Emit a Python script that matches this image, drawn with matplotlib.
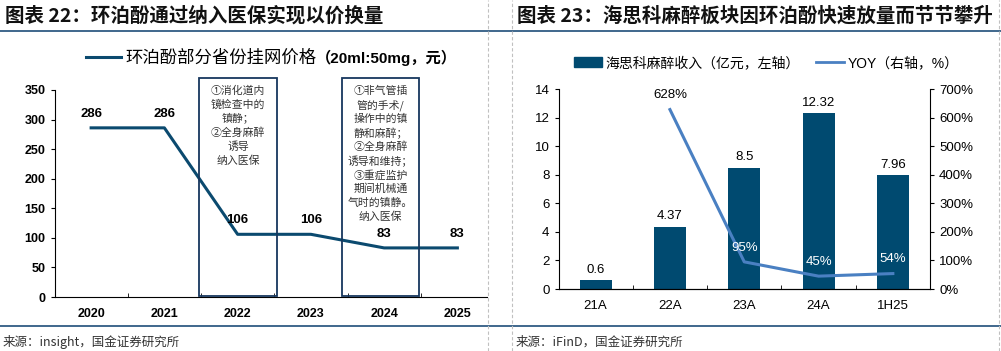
import matplotlib.pyplot as plt
from matplotlib.patches import Rectangle
from matplotlib.lines import Line2D

CJK = ['Noto Sans CJK SC', 'DejaVu Sans']
LAT = ['Liberation Sans', 'Noto Sans CJK SC', 'DejaVu Sans']

# left chart data
years = ['2020', '2021', '2022', '2023', '2024', '2025']
price = [286, 286, 106, 106, 83, 83]
box1_text = ['①消化道内', '镜检查中的', '镇静；', '②全身麻醉', '诱导', '纳入医保']
box2_text = ['①非气管插', '管的手术/', '操作中的镇', '静和麻醉；', '②全身麻醉',
             '诱导和维持；', '③重症监护', '期间机械通', '气时的镇静。', '纳入医保']

# right chart data
periods = ['21A', '22A', '23A', '24A', '1H25']
revenue = [0.6, 4.37, 8.5, 12.32, 7.96]
yoy_periods = ['22A', '23A', '24A', '1H25']
yoy = [628, 95, 45, 54]

W, H = 1001, 351
fig = plt.figure(figsize=(W / 100, H / 100), dpi=100)


def px_axes(x0, y0, x1, y1):
    # pixel box (top-left origin) -> figure axes
    return fig.add_axes([x0 / W, 1 - y1 / H, (x1 - x0) / W, (y1 - y0) / H])


def fx(x):
    return x / W


def fy(y):
    return 1 - y / H


navy = '#0b4a6f'
bar_c = '#004a70'
yoy_c = '#4a80c2'
frame_c = '#17375e'

# header / footer lines and separators
for y in (31, 326):
    fig.add_artist(Line2D([0, 1], [fy(y), fy(y)], color='#1f4e79', lw=1.2))
for x in (488, 512, 999):
    fig.add_artist(Line2D([fx(x), fx(x)], [0, 1], color='#c0c0c0', lw=0.8, ls=(0, (3, 2))))

fig.text(fx(5), fy(16), '图表 22：环泊酚通过纳入医保实现以价换量', family=CJK,
         fontsize=14, fontweight='bold', style='italic', va='center', color='#111111')
fig.text(fx(517), fy(16), '图表 23：海思科麻醉板块因环泊酚快速放量而节节攀升', family=CJK,
         fontsize=14, fontweight='bold', style='italic', va='center', color='#111111')
fig.text(fx(3), fy(342), '来源：insight，国金证券研究所', family=CJK, fontsize=9,
         va='center', color='#333333')
fig.text(fx(516), fy(342), '来源：iFinD，国金证券研究所', family=CJK, fontsize=9,
         va='center', color='#333333')

# ---------------- left chart
ax = px_axes(54.5, 90, 494, 297)
x = range(len(years))
ax.plot(x, price, color=navy, lw=2.2)
for i, v in zip(x, price):
    ax.annotate(str(v), (i, v), xytext=(0, 6), textcoords='offset points',
                ha='center', va='bottom', fontsize=9.5, fontweight='bold', family=LAT)
ax.set_xlim(-0.5, len(years) - 0.5)
ax.set_ylim(0, 350)
ax.set_yticks(range(0, 351, 50))
ax.set_xticks([i + 0.5 for i in range(len(years) - 1)], minor=True)
ax.set_xticks(list(x))
ax.set_xticklabels(years)
ax.tick_params(axis='x', which='major', length=0, pad=8)
ax.tick_params(axis='x', which='minor', direction='in', length=3)
ax.tick_params(axis='y', direction='out', length=3)
for lab in ax.get_xticklabels() + ax.get_yticklabels():
    lab.set_family(LAT)
    lab.set_fontweight('bold')
    lab.set_fontsize(9)
for s in ('top', 'right'):
    ax.spines[s].set_visible(False)
ax.spines['bottom'].set_bounds(-0.5, 5.4)
leg = ax.legend([Line2D([], [], color=navy, lw=2.2)], ['环泊酚部分省份挂网价格'],
                loc='center left', bbox_to_anchor=((86 - 54.5) / 439.5, (297 - 58) / 207),
                frameon=False, prop={'family': CJK, 'size': 12.5}, handlelength=2.0,
                handletextpad=0.25, borderaxespad=0, borderpad=0)
fig.canvas.draw()
bb = leg.get_texts()[0].get_window_extent()
fig.text(bb.x1 / W, fy(58), '（20ml:50mg，元）', family=LAT, fontsize=11,
         fontweight='bold', va='center')

for (x0, x1), lines in (((199, 277), box1_text), ((342, 419), box2_text)):
    fig.add_artist(Rectangle((fx(x0), fy(296)), fx(x1 - x0), (296 - 78) / H,
                             fill=False, ec=frame_c, lw=1.3))
    for k, t in enumerate(lines):
        fig.text(fx((x0 + x1) / 2), fy(91 + 14 * k), t, family=CJK, fontsize=7.8,
                 ha='center', va='center', color='#333333')

# ---------------- right chart
ax2 = px_axes(558.5, 89, 930, 289)
xr = range(len(periods))
ax2.bar(xr, revenue, width=0.43, color=bar_c, zorder=2)
for i, v in zip(xr, revenue):
    ax2.annotate(f'{v:g}', (i, v), xytext=(0, 3), textcoords='offset points',
                 ha='center', va='bottom', fontsize=9.5, family=LAT)
ax2.set_xlim(-0.5, len(periods) - 0.5)
ax2.set_ylim(0, 14)
ax2.set_yticks(range(0, 15, 2))
ax2.set_xticks(list(xr))
ax2.set_xticklabels(periods)
ax2.set_xticks([i + 0.5 for i in range(len(periods) - 1)], minor=True)
ax2.tick_params(axis='x', which='major', length=0, pad=8)
ax2.tick_params(axis='x', which='minor', direction='in', length=3)
ax2.tick_params(axis='y', direction='out', length=3)
ax2.spines['top'].set_visible(False)
ax2.spines['right'].set_visible(False)

ax3 = ax2.twinx()
xy = [periods.index(p) for p in yoy_periods]
ax3.plot(xy, yoy, color=yoy_c, lw=2.2, zorder=3)
for i, v in zip(xy, yoy):
    ax3.annotate(f'{v}%', (i, v), xytext=(0, 6), textcoords='offset points',
                 ha='center', va='bottom', fontsize=9.5, family=LAT,
                 color='black' if v > 500 else 'white')
ax3.set_ylim(0, 700)
ax3.set_yticks(range(0, 701, 100))
ax3.set_yticklabels([f'{v}%' for v in range(0, 701, 100)])
ax3.tick_params(axis='y', direction='out', length=3)
ax3.spines['top'].set_visible(False)
ax3.spines['left'].set_visible(False)
for a in (ax2, ax3):
    for lab in a.get_xticklabels() + a.get_yticklabels():
        lab.set_family(LAT)
        lab.set_fontsize(9.5)

handles = [Rectangle((0, 0), 1, 1, color=bar_c), Line2D([], [], color=yoy_c, lw=2)]
ax2.legend(handles, ['海思科麻醉收入（亿元，左轴）', 'YOY（右轴，%）'], ncol=2,
           loc='center', bbox_to_anchor=((766 - 558.5) / 371.5, (289 - 63) / 200),
           frameon=False, prop={'family': LAT, 'size': 10}, handlelength=2.0,
           handletextpad=0.25, columnspacing=1.2)

fig.savefig('out.png', dpi=100)
